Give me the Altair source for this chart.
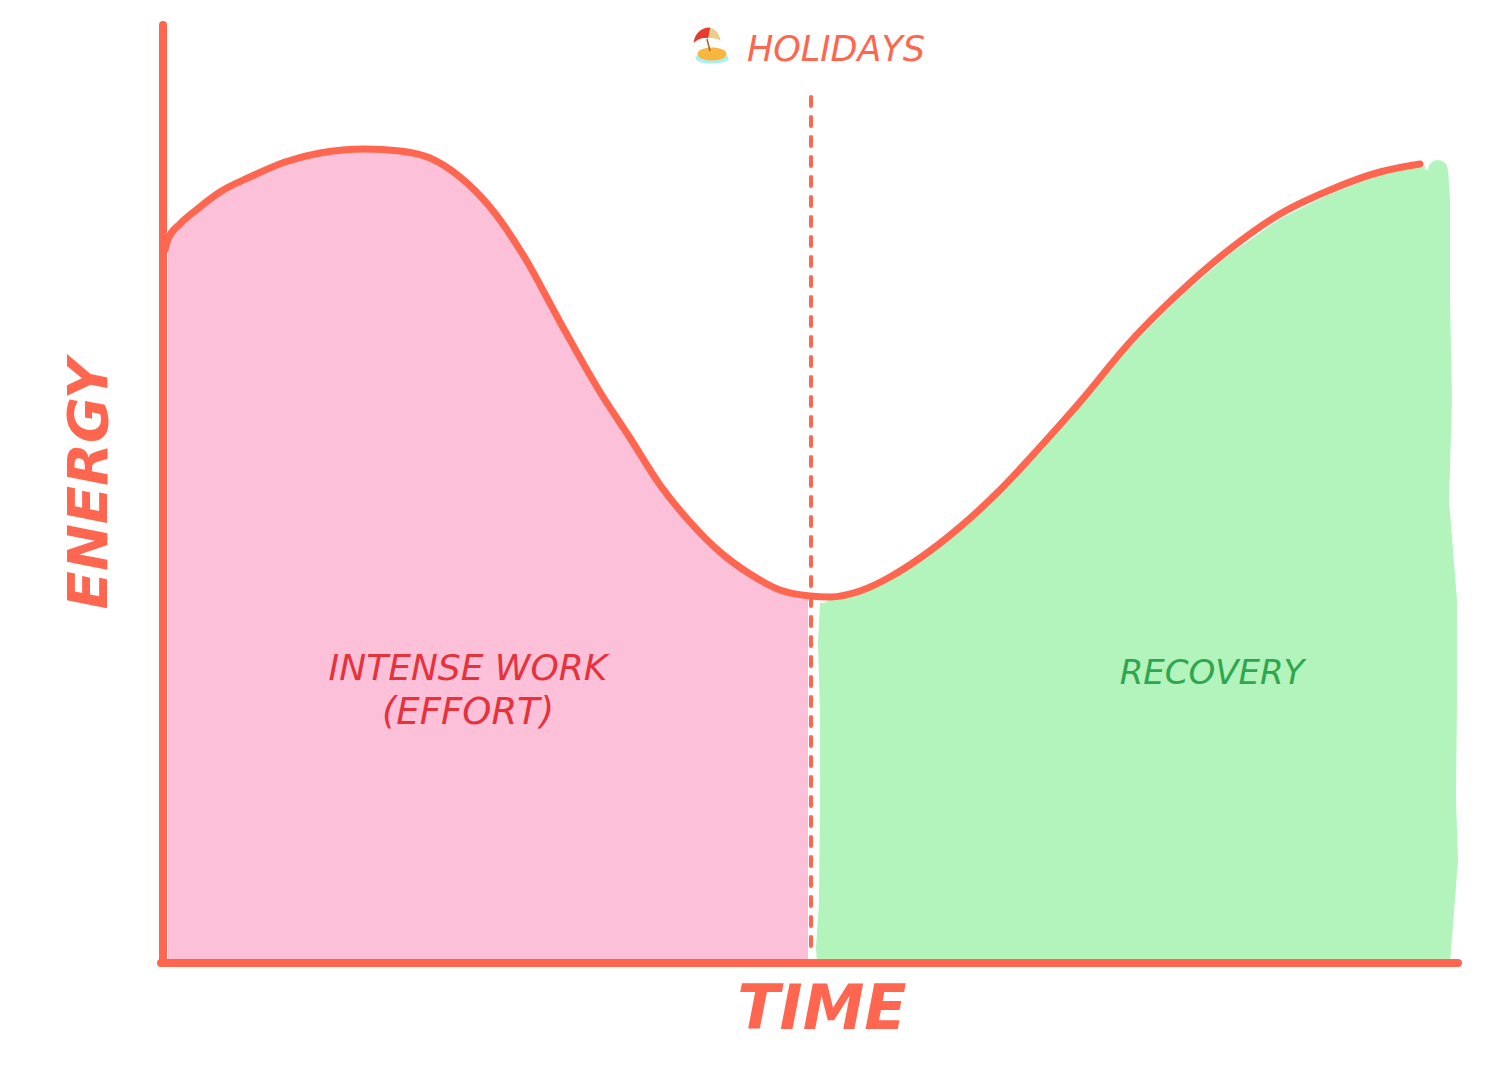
import altair as alt
import pandas as pd

LINE = "#FF6650"
PINK = "#FCC0D8"
GREEN = "#B2F4BC"

curve_time = [2, 5, 17, 32, 57, 87, 122, 157, 202, 237, 267, 297, 327, 362, 397, 437, 467, 497, 527, 557, 587, 617, 647, 667, 697, 727, 757, 797, 837, 877, 917, 967, 1017, 1067, 1117, 1167, 1217, 1257]
curve_energy = [713, 724, 739, 752, 771, 786, 801, 810, 814, 812, 805, 786, 756, 705, 641, 571, 525, 478, 441, 411, 389, 373, 367, 366, 372, 386, 405, 436, 473, 516, 561, 621, 671, 714, 749, 773, 791, 799]

effort_time = [5, 17, 32, 57, 87, 122, 157, 202, 237, 267, 297, 327, 362, 397, 437, 467, 497, 527, 557, 587, 617, 645]
effort_energy = [724, 739, 752, 771, 786, 801, 810, 814, 812, 805, 786, 756, 705, 641, 571, 525, 478, 441, 411, 389, 373, 367]

recovery_time = [657, 667, 697, 727, 757, 797, 837, 877, 917, 967, 1017, 1067, 1117, 1167, 1217, 1262]
recovery_energy = [357, 364, 370, 384, 403, 434, 470, 513, 557, 616, 666, 709, 744, 769, 788, 797]

edge_energy = [793, 763, 663, 563, 463, 363, 263, 163, 103, 0]
edge_time = [1285, 1287, 1287, 1289, 1286, 1294, 1294, 1293, 1295, 1287]
edge_base = [1262] * len(edge_time)

green_left_energy = [360, 320, 250, 160, 60, 15, 0]
green_left_time = [657, 655, 657, 657, 656, 653, 654]
green_left_base = [680] * len(green_left_time)

X = alt.X("t:Q", axis=None, scale=alt.Scale(domain=[-155, 1337], nice=False, zero=False))
Y = alt.Y("e:Q", axis=None, scale=alt.Scale(domain=[-106, 955], nice=False, zero=False))

ELLIPSE = "M-1,0C-1,-0.45,1,-0.45,1,0C1,0.45,-1,0.45,-1,0Z"
SAND = "M-1,0C-1,-0.6,1,-0.6,1,0C1,0.6,-1,0.6,-1,0Z"
CANOPY_LEFT = "M-1,0.45C-0.9,-0.35,-0.3,-0.75,0.25,-0.7L0.1,0.1C-0.3,0,-0.7,0.15,-1,0.45Z"
CANOPY_RIGHT = "M0.25,-0.7C0.6,-0.6,0.95,-0.25,1,0.3C0.7,0.1,0.4,0.05,0.1,0.1Z"


def T(ts, es, **extra):
    d = {"t": ts, "e": es}
    d.update(extra)
    return pd.DataFrame(d)


pink = alt.Chart(T(effort_time, effort_energy, b=[3] * len(effort_time))).mark_area(color=PINK, opacity=1).encode(
    x=X, y=Y, y2="b:Q")
green = alt.Chart(T(recovery_time, recovery_energy, b=[3] * len(recovery_time))).mark_area(color=GREEN, opacity=1).encode(
    x=X, y=Y, y2="b:Q")
green_edge = alt.Chart(T(edge_time, edge_energy, b=edge_base)).mark_area(color=GREEN, opacity=1, orient="horizontal").encode(
    x=X, x2="b:Q", y=Y)
green_left = alt.Chart(T(green_left_time, green_left_energy, b=green_left_base)).mark_area(color=GREEN, opacity=1, orient="horizontal").encode(
    x=X, x2="b:Q", y=Y)
green_cap = alt.Chart(T([1275], [793])).mark_point(color=GREEN, filled=True, opacity=1, size=400, shape="circle").encode(x=X, y=Y)

line = alt.Chart(T(curve_time, curve_energy, o=list(range(len(curve_time))))).mark_line(
    color=LINE, strokeWidth=7, interpolate="monotone", strokeCap="round").encode(x=X, y=Y, order="o:Q")

axis_y = alt.Chart(T([0], [0], e2=[938])).mark_rule(color=LINE, strokeWidth=8, strokeCap="round").encode(x=X, y=Y, y2="e2:Q")
axis_x = alt.Chart(T([-2], [0], t2=[1295])).mark_rule(color=LINE, strokeWidth=8, strokeCap="round").encode(x=X, x2="t2:Q", y=Y)
holiday = alt.Chart(T([648], [866], e2=[16])).mark_rule(color=LINE, strokeWidth=4, strokeDash=[9, 11], strokeCap="round").encode(x=X, y=Y, y2="e2:Q")


def label(text, t, e, size, color, angle=0, weight=400):
    return alt.Chart(pd.DataFrame({"t": [t], "e": [e], "s": [text]})).mark_text(
        font="DejaVu Sans", fontSize=size, color=color, angle=angle, fontWeight=weight,
        align="center", baseline="middle", fontStyle="oblique").encode(x=X, y=Y, text="s:N")


def spot(t, e, size, shape, color):
    return alt.Chart(T([t], [e])).mark_point(color=color, filled=True, opacity=1, size=size, shape=shape).encode(x=X, y=Y)


icon = [
    spot(549, 905, 1089, ELLIPSE, "#A8F0F4"),
    spot(549, 909, 841, SAND, "#F8B63E"),
    alt.Chart(T([544], [924], t2=[547], e2=[912])).mark_rule(color="#9A6A3C", strokeWidth=1.5).encode(x=X, x2="t2:Q", y=Y, y2="e2:Q"),
    spot(544, 926, 729, CANOPY_LEFT, "#E83A2E"),
    spot(544, 926, 729, CANOPY_RIGHT, "#E8CF8C"),
]

labels = [
    label("HOLIDAYS", 673, 913, 35, LINE),
    label("INTENSE WORK", 305, 294, 36, "#E5323B"),
    label("(EFFORT)", 305, 250, 37, "#E5323B"),
    label("RECOVERY", 1049, 289, 34, "#2FA650"),
    label("TIME", 659, -47, 62, LINE, weight=700),
    label("ENERGY", -73, 479, 56, LINE, angle=270, weight=700),
]

chart = alt.layer(pink, green, green_left, green_edge, green_cap, holiday, line, axis_y, axis_x, *icon, *labels).properties(
    width=1492, height=1061, padding=0, autosize=alt.AutoSizeParams(type="none"),
    background="white").configure_view(stroke=None)

chart.save("out.html", embed_options={"renderer": "svg", "actions": False})
